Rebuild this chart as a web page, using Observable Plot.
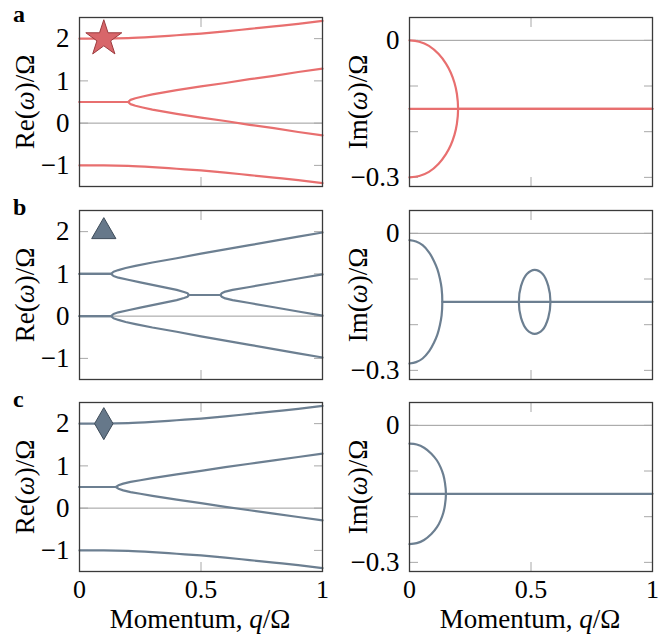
<!DOCTYPE html>
<html><head><meta charset="utf-8">
<script src="https://cdn.jsdelivr.net/npm/d3@7"></script>
<script src="https://cdn.jsdelivr.net/npm/@observablehq/plot@0.6"></script>
<style>
body{margin:0;background:#fff;}
#fig{position:relative;width:667px;height:635px;font-family:"Liberation Serif",serif;color:#000;overflow:hidden;}
#fig svg{position:absolute;}
.lab{position:absolute;font-size:27px;line-height:1;white-space:nowrap;}
.rot{transform:translate(-50%,-50%) rotate(-90deg);}
.hc{transform:translateX(-50%);}
.pl{position:absolute;font-weight:bold;font-size:24px;line-height:1;}
</style></head><body><div id="fig"></div>
<script>
// ---- axis ticks ----
const xTicks = [0, 0.5, 1];
const xTickLabels = ["0", "0.5", "1"];
const reTicks = [-1, 0, 1, 2];
const reTickLabels = ["−1", "0", "1", "2"];
const imTicks = [0, -0.1, -0.2, -0.3];
const imTickLabels = ["0", "", "", "−0.3"];
const reDomain = [-1.5, 2.5];
const imDomain = [-0.32, 0.05];

// ---- outer modes (panels a, c) ----
const qOuter = [0, 0.1, 0.2, 0.3, 0.4, 0.5, 0.6, 0.7, 0.8, 0.9, 1.0];
const reOuterTop = [2.0, 2.0, 2.01, 2.04, 2.08, 2.12, 2.17, 2.23, 2.29, 2.35, 2.42];
const reOuterBottom = [-1.0, -1.0, -1.01, -1.04, -1.08, -1.12, -1.17, -1.23, -1.29, -1.35, -1.42];

// ---- panel a, Re ----
const qA = [0, 0.1, 0.2, 0.21, 0.23, 0.26, 0.3, 0.4, 0.5, 0.6, 0.7, 0.8, 0.9, 1.0];
const reAUpper = [0.5, 0.5, 0.5, 0.55, 0.59, 0.63, 0.68, 0.78, 0.87, 0.95, 1.04, 1.12, 1.21, 1.29];
const reALower = [0.5, 0.5, 0.5, 0.45, 0.41, 0.37, 0.32, 0.22, 0.13, 0.05, -0.04, -0.12, -0.21, -0.29];
// ---- panel a, Im ----
const imAArcQ = [0, 0.04, 0.08, 0.12, 0.15, 0.17, 0.185, 0.195, 0.2, 0.195, 0.185, 0.17, 0.15, 0.12, 0.08, 0.04, 0];
const imAArcV = [0, -0.003, -0.012, -0.03, -0.051, -0.071, -0.093, -0.117, -0.15, -0.183, -0.207, -0.229, -0.249, -0.27, -0.288, -0.297, -0.3];
const imAFlatQ = [0, 1];
const imAFlatV = [-0.15, -0.15];
const imAPairQ = [0.2, 1];
const imAPairV = [-0.15, -0.15];

// ---- panel b, Re ----
const qB = [0, 0.13, 0.14, 0.16, 0.19, 0.23, 0.3, 0.4, 0.5, 0.6, 0.7, 0.8, 0.9, 1.0];
const reBTop = [1, 1, 1.05, 1.09, 1.14, 1.19, 1.27, 1.37, 1.48, 1.58, 1.68, 1.78, 1.88, 1.98];
const reBBottom = [0, 0, -0.05, -0.09, -0.14, -0.19, -0.27, -0.37, -0.48, -0.58, -0.68, -0.78, -0.88, -0.98];
const qBInner = [0, 0.13, 0.14, 0.16, 0.2, 0.25, 0.3, 0.35, 0.4, 0.43, 0.445, 0.45, 0.58, 0.585, 0.6, 0.63, 0.7, 0.8, 0.9, 1.0];
const reBInnerHi = [1, 1, 0.95, 0.91, 0.86, 0.8, 0.74, 0.68, 0.62, 0.57, 0.54, 0.5, 0.5, 0.54, 0.58, 0.62, 0.69, 0.79, 0.89, 0.99];
const reBInnerLo = [0, 0, 0.05, 0.09, 0.14, 0.2, 0.26, 0.32, 0.38, 0.43, 0.46, 0.5, 0.5, 0.46, 0.42, 0.38, 0.31, 0.21, 0.11, 0.01];
// ---- panel b, Im ----
const imBArcQ = [0, 0.027, 0.054, 0.081, 0.101, 0.115, 0.125, 0.132, 0.135, 0.132, 0.125, 0.115, 0.101, 0.081, 0.054, 0.027, 0];
const imBArcV = [-0.015, -0.018, -0.026, -0.042, -0.061, -0.079, -0.099, -0.12, -0.15, -0.18, -0.201, -0.221, -0.239, -0.258, -0.274, -0.282, -0.285];
const imBFlatQ = [0.135, 1];
const imBFlatV = [-0.15, -0.15];
const imBLoopQ = [0.58, 0.571, 0.548, 0.515, 0.483, 0.459, 0.45, 0.459, 0.483, 0.515, 0.548, 0.571];
const imBLoopV = [-0.15, -0.115, -0.089, -0.08, -0.089, -0.115, -0.15, -0.185, -0.211, -0.22, -0.211, -0.185];

// ---- panel c, Re ----
const qC = [0, 0.1, 0.15, 0.16, 0.18, 0.21, 0.25, 0.3, 0.4, 0.5, 0.6, 0.7, 0.8, 0.9, 1.0];
const reCUpper = [0.5, 0.5, 0.5, 0.54, 0.58, 0.62, 0.66, 0.71, 0.8, 0.88, 0.97, 1.05, 1.13, 1.21, 1.29];
const reCLower = [0.5, 0.5, 0.5, 0.46, 0.42, 0.38, 0.34, 0.29, 0.2, 0.12, 0.03, -0.05, -0.13, -0.21, -0.29];
// ---- panel c, Im ----
const imCArcQ = [0, 0.03, 0.06, 0.09, 0.113, 0.128, 0.139, 0.146, 0.15, 0.146, 0.139, 0.128, 0.113, 0.09, 0.06, 0.03, 0];
const imCArcV = [-0.04, -0.042, -0.049, -0.062, -0.077, -0.092, -0.108, -0.126, -0.15, -0.174, -0.192, -0.208, -0.223, -0.238, -0.251, -0.258, -0.26];
const imCFlatQ = [0, 1];
const imCFlatV = [-0.15, -0.15];

// ---- markers ----
const markerQ = [0.1];
const markerRe = [2.0];

// ---- colours ----
const RED = "#e86f6f", SLATE = "#6c7f91";

const pts = (qs, vs) => qs.map((q, i) => ({q, v: vs[i]}));
const FONT = '"Liberation Serif", serif';

function panel({left, top, domain, ticks, labels, lines, marker, bottom}) {
  const mt = 6, mb = bottom ? 46 : 6, ml = 79, mr = 8, W = 243, H = 169;
  const fmtY = d => labels[ticks.indexOf(d)];
  const fmtX = d => xTickLabels[xTicks.indexOf(d)];
  const marks = [
    Plot.ruleY([0], {stroke: "#9c9c9c", strokeWidth: 1}),
    Plot.axisY(ticks, {anchor: "left", tickSize: -9, stroke: "#a8a8a8", tickFormat: () => "", label: null}),
    Plot.axisY(ticks, {anchor: "right", tickSize: -9, stroke: "#a8a8a8", tickFormat: () => "", label: null}),
    Plot.axisX(xTicks, {anchor: "bottom", tickSize: -9, stroke: "#a8a8a8", tickFormat: () => "", label: null}),
    Plot.axisX(xTicks, {anchor: "top", tickSize: -9, stroke: "#a8a8a8", tickFormat: () => "", label: null}),
    Plot.axisY(ticks, {anchor: "left", tickSize: 0, tickPadding: 10, tickFormat: fmtY, label: null, fontSize: 27, fontFamily: FONT, fill: "#000"}),
    ...lines.map(l => Plot.line(pts(l.q, l.v), {x: "q", y: "v", stroke: l.color, strokeWidth: 2.2, curve: l.curve || "linear"})),
  ];
  if (bottom) marks.push(Plot.axisX(xTicks, {anchor: "bottom", tickSize: 0, tickPadding: 8, tickFormat: fmtX, label: null, fontSize: 26, fontFamily: FONT, fill: "#000"}));
  if (marker) marks.push(Plot.dot(pts(markerQ, markerRe), {x: "q", y: "v", symbol: marker.symbol, r: marker.r, fill: marker.fill, stroke: marker.stroke, strokeWidth: 1}));
  marks.push(Plot.frame({stroke: "#3a3a3a", strokeWidth: 1.3}));
  const svg = Plot.plot({
    width: ml + W + mr, height: mt + H + mb,
    marginLeft: ml, marginRight: mr, marginTop: mt, marginBottom: mb,
    x: {domain: [0, 1]},
    y: {domain},
    style: {background: "transparent", overflow: "visible", fontFamily: FONT, fontSize: "27px"},
    marks
  });
  svg.style.left = left + "px";
  svg.style.top = (top - mt) + "px";
  document.getElementById("fig").appendChild(svg);
}

const rowTops = [17, 210, 402];
const starM = {symbol: "star", r: 11.3, fill: "#d8666a", stroke: "#9c3b3f"};
const triM = {symbol: "triangle", r: 9, fill: "#66788a", stroke: "#3d4b59"};
const diaM = {symbol: "diamond", r: 9.7, fill: "#66788a", stroke: "#3d4b59"};

// Row a
panel({left: 0, top: rowTops[0], domain: reDomain, ticks: reTicks, labels: reTickLabels, marker: starM, lines: [
  {q: qOuter, v: reOuterTop, color: RED, curve: "monotone-x"},
  {q: qOuter, v: reOuterBottom, color: RED, curve: "monotone-x"},
  {q: qA, v: reAUpper, color: RED},
  {q: qA, v: reALower, color: RED}]});
panel({left: 330, top: rowTops[0], domain: imDomain, ticks: imTicks, labels: imTickLabels, lines: [
  {q: imAFlatQ, v: imAFlatV, color: RED},
  {q: imAPairQ, v: imAPairV, color: RED},
  {q: imAArcQ, v: imAArcV, color: RED, curve: "catmull-rom"}]});
// Row b
panel({left: 0, top: rowTops[1], domain: reDomain, ticks: reTicks, labels: reTickLabels, marker: triM, lines: [
  {q: qB, v: reBTop, color: SLATE},
  {q: qB, v: reBBottom, color: SLATE},
  {q: qBInner, v: reBInnerHi, color: SLATE},
  {q: qBInner, v: reBInnerLo, color: SLATE}]});
panel({left: 330, top: rowTops[1], domain: imDomain, ticks: imTicks, labels: imTickLabels, lines: [
  {q: imBFlatQ, v: imBFlatV, color: SLATE},
  {q: imBArcQ, v: imBArcV, color: SLATE, curve: "catmull-rom"},
  {q: imBLoopQ, v: imBLoopV, color: SLATE, curve: "catmull-rom-closed"}]});
// Row c
panel({left: 0, top: rowTops[2], domain: reDomain, ticks: reTicks, labels: reTickLabels, marker: diaM, bottom: true, lines: [
  {q: qOuter, v: reOuterTop, color: SLATE, curve: "monotone-x"},
  {q: qOuter, v: reOuterBottom, color: SLATE, curve: "monotone-x"},
  {q: qC, v: reCUpper, color: SLATE},
  {q: qC, v: reCLower, color: SLATE}]});
panel({left: 330, top: rowTops[2], domain: imDomain, ticks: imTicks, labels: imTickLabels, bottom: true, lines: [
  {q: imCFlatQ, v: imCFlatV, color: SLATE},
  {q: imCArcQ, v: imCArcV, color: SLATE, curve: "catmull-rom"}]});

// ---- text labels ----
const fig = document.getElementById("fig");
function addLabel(html, cls, styleText) {
  const d = document.createElement("div");
  d.className = cls; d.innerHTML = html; d.style.cssText = styleText;
  fig.appendChild(d);
}
const panelLetters = ["a", "b", "c"];
rowTops.forEach((t, i) => {
  const cy = t + 84.5;
  addLabel("Re(<i>ω</i>)/Ω", "lab rot", `left:25px;top:${cy}px;`);
  addLabel("Im(<i>ω</i>)/Ω", "lab rot", `left:358px;top:${cy}px;`);
  addLabel(panelLetters[i], "pl", `left:13px;top:${t - 15}px;`);
});
addLabel("Momentum, <i>q</i>/Ω", "lab hc", "left:200px;top:606px;");
addLabel("Momentum, <i>q</i>/Ω", "lab hc", "left:530px;top:606px;");
</script></body></html>
